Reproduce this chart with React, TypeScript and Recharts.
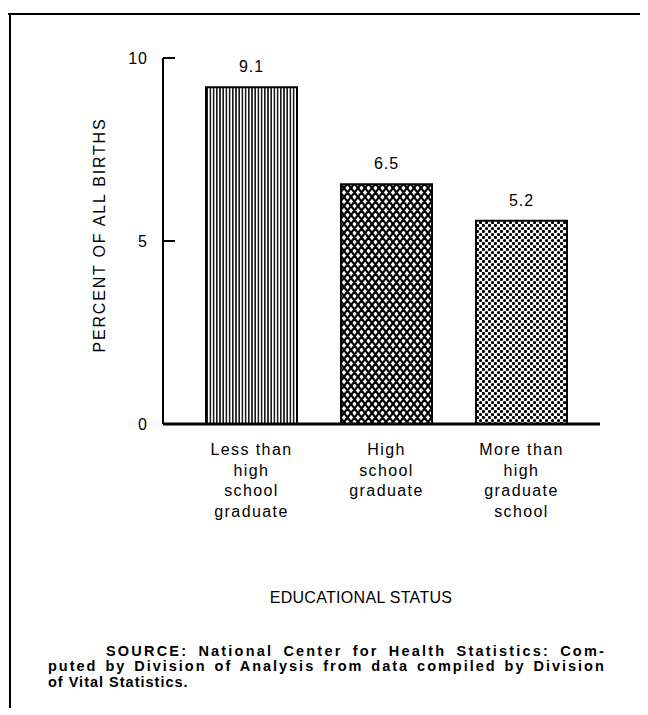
import React from "react";
import { BarChart, Bar, XAxis, YAxis, Cell, LabelList } from "recharts";

const categories = [
  "Less than\nhigh\nschool\ngraduate",
  "High\nschool\ngraduate",
  "More than\nhigh\ngraduate\nschool",
];
const barHeights = [9.2, 6.55, 5.55];
const valueLabels = ["9.1", "6.5", "5.2"];
const patternIds = ["vlines", "diamonds", "dots"];
const yTicks = [0, 5, 10];

const yTitle = "PERCENT OF ALL BIRTHS";
const xTitle = "EDUCATIONAL STATUS";
const sourceLines = [
  "SOURCE: National Center for Health Statistics: Com-",
  "puted by Division of Analysis from data compiled by Division",
  "of Vital Statistics.",
];

const data = categories.map((c, i) => ({
  name: c,
  value: barHeights[i],
  label: valueLabels[i],
}));

const FONT = "'Liberation Sans', Arial, Helvetica, sans-serif";

const YTick = (props: any) => {
  const { x, y, payload } = props;
  return (
    <g>
      <line x1={x} x2={x + 12} y1={y} y2={y} stroke="#000" strokeWidth={2} />
      <text x={x - 15} y={y} dy={6} textAnchor="end" fontSize={16} letterSpacing={1} fontFamily={FONT} fill="#000">
        {payload.value}
      </text>
    </g>
  );
};

const XTick = (props: any) => {
  const { x, y, payload } = props;
  const lines = String(payload.value).split("\n");
  return (
    <g>
      <text textAnchor="middle" fontSize={16} letterSpacing={1.4} fontFamily={FONT} fill="#000">
        {lines.map((l, i) => (
          <tspan key={i} x={x} y={y + 31 + i * 20.5}>
            {l}
          </tspan>
        ))}
      </text>
    </g>
  );
};

const BarLabel = (props: any) => {
  const { x, y, width, index } = props;
  return (
    <text
      x={x + width / 2}
      y={y - 15}
      textAnchor="middle"
      fontSize={16}
      letterSpacing={1}
      fontFamily={FONT}
      fill="#000"
    >
      {valueLabels[index]}
    </text>
  );
};

export default function App() {
  return (
    <div style={{ position: "relative", width: 640, height: 700, background: "#fff" }}>
      <svg width={0} height={0} style={{ position: "absolute" }}>
        <defs>
          <pattern id="vlines" width={3.2} height={10} patternUnits="userSpaceOnUse">
            <rect width={3.2} height={10} fill="#fff" />
            <rect x={0} y={0} width={1.6} height={10} fill="#1a1a1a" />
          </pattern>
          <pattern id="diamonds" width={7} height={9} patternUnits="userSpaceOnUse">
            <rect width={7} height={9} fill="#fff" />
            <path d="M-3.5,-4.5 L10.5,13.5 M10.5,-4.5 L-3.5,13.5 M-3.5,4.5 L3.5,13.5 M3.5,-4.5 L10.5,4.5 M3.5,-4.5 L-3.5,4.5 M10.5,4.5 L3.5,13.5" stroke="#000" strokeWidth={2.2} />
          </pattern>
          <pattern id="dots" width={6} height={6} patternUnits="userSpaceOnUse">
            <rect width={6} height={6} fill="#fff" />
            <circle cx={1.5} cy={1.5} r={1.6} fill="#000" />
            <circle cx={4.5} cy={4.5} r={1.6} fill="#000" />
          </pattern>
        </defs>
      </svg>
      <div style={{ position: "absolute", left: 0, top: 0 }}>
        <BarChart
          width={640}
          height={700}
          data={data}
          margin={{ top: 50, right: 48, bottom: 254, left: 95 }}
        >
          <YAxis
            type="number"
            domain={[0, 10]}
            ticks={yTicks}
            width={60}
            tickSize={0}
            tickMargin={0}
            tickLine={false}
            axisLine={{ stroke: "#000", strokeWidth: 2 }}
            tick={<YTick />}
            interval={0}
          />
          <XAxis
            dataKey="name"
            height={30}
            padding={{ left: 21, right: 11 }}
            tickSize={0}
            tickMargin={0}
            tickLine={false}
            axisLine={{ stroke: "#000", strokeWidth: 3 }}
            tick={<XTick />}
            interval={0}
          />
          <Bar dataKey="value" barSize={91} stroke="#000" strokeWidth={2} isAnimationActive={false}>
            {data.map((d, i) => (
              <Cell key={i} fill={`url(#${patternIds[i]})`} />
            ))}
            <LabelList dataKey="label" content={<BarLabel />} />
          </Bar>
        </BarChart>
      </div>
      <svg
        width={640}
        height={700}
        style={{ position: "absolute", left: 0, top: 0, pointerEvents: "none" }}
      >
        <line x1={-1} x2={640} y1={6} y2={6} stroke="#000" strokeWidth={2} />
        <line x1={2} x2={2} y1={5} y2={707} stroke="#000" strokeWidth={2} />
        <text
          transform="translate(97,227) rotate(-90)"
          textAnchor="middle"
          fontSize={16}
          fontFamily={FONT}
          letterSpacing={1.8}
          fill="#000"
        >
          {yTitle}
        </text>
        <text x={353} y={595} textAnchor="middle" fontSize={16} fontFamily={FONT} letterSpacing={0.3} fill="#000">
          {xTitle}
        </text>
        <text x={98} y={647.5} fontSize={14.5} fontWeight="bold" fontFamily={FONT} fill="#000" letterSpacing={1.2} wordSpacing={4} textLength={499} lengthAdjust="spacing">
          {sourceLines[0]}
        </text>
        <text x={40} y={663} fontSize={14.5} fontWeight="bold" fontFamily={FONT} fill="#000" letterSpacing={1.2} wordSpacing={2} textLength={557} lengthAdjust="spacing">
          {sourceLines[1]}
        </text>
        <text x={40} y={678.5} fontSize={14.5} fontWeight="bold" fontFamily={FONT} fill="#000" letterSpacing={1}>
          {sourceLines[2]}
        </text>
      </svg>
    </div>
  );
}
